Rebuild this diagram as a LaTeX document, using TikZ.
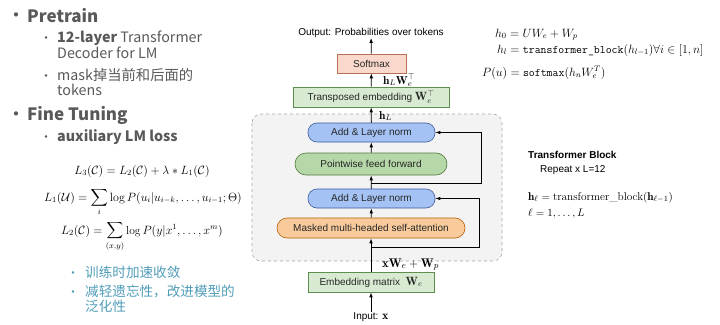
\documentclass[tikz,border=0pt]{standalone}
\usepackage{amsmath, amssymb}
\usepackage{fontspec}
\usetikzlibrary{arrows.meta, positioning}
\newfontfamily\cjk{Noto Sans CJK SC}
\newfontfamily\diagfont{Liberation Sans}
\definecolor{slidegray}{HTML}{595959}
\definecolor{tealtext}{HTML}{4F9CB8}
\definecolor{softfill}{HTML}{FAD9CC}
\definecolor{softdraw}{HTML}{B4705A}
\definecolor{embfill}{HTML}{D9EAD3}
\definecolor{embdraw}{HTML}{5F8F4F}
\definecolor{normfill}{HTML}{A4C2F4}
\definecolor{normdraw}{HTML}{3C5A9A}
\definecolor{ffnfill}{HTML}{B6D7A8}
\definecolor{ffndraw}{HTML}{4F7A3A}
\definecolor{attfill}{HTML}{F9CB9C}
\definecolor{attdraw}{HTML}{B45F06}
\definecolor{blockfill}{HTML}{F3F3F3}
\newcommand{\bigmat}[1]{{\fontsize{12}{12}\selectfont$#1$}}

\begin{document}
\begin{tikzpicture}[x=1pt, y=-1pt,
  head/.style={anchor=base west, inner sep=0pt, text=slidegray, font=\cjk\bfseries\fontsize{17}{20}\selectfont},
  item/.style={anchor=base west, inner sep=0pt, text=slidegray, font=\cjk\fontsize{14.3}{16}\selectfont},
  note/.style={item, text=tealtext, font=\cjk\fontsize{13.6}{16}\selectfont},
  bigdot/.style={anchor=base, inner sep=0pt, text=slidegray, font=\cjk\fontsize{20}{20}\selectfont},
  smalldot/.style={anchor=base, inner sep=0pt, text=slidegray, font=\cjk\fontsize{12}{12}\selectfont},
  eqn/.style={anchor=base, inner sep=0pt, font=\fontsize{11.5}{13}\selectfont},
  label/.style={inner sep=0pt, font=\diagfont\fontsize{10}{12}\selectfont},
  box/.style={draw, line width=0.6pt, inner sep=0pt, align=center, text=black!85,
              font=\diagfont\fontsize{10}{12}\selectfont},
  pill/.style={box, rounded corners=9pt},
  arr/.style={-{Latex[length=5pt,width=3.6pt]}, line width=0.8pt},
  lbl/.style={inner sep=0pt, anchor=base west, font=\fontsize{12.5}{14}\selectfont}]
  \useasboundingbox (0,0) rectangle (720,324);

  % left column
  \node[bigdot] (d1) at (16,23) {•};
  \node[head] (pre) at (27,22) {Pretrain};
  \node[smalldot] (d2) at (46,42) {•};
  \node[item] (l1a) at (57,42) {\textbf{12-layer} Transformer};
  \node[item] (l1b) at (57,58) {Decoder for LM};
  \node[smalldot] (d3) at (46,80) {•};
  \node[item] (l2a) at (57,80) {mask掉当前和后面的};
  \node[item] (l2b) at (57,95) {tokens};
  \node[bigdot] (d4) at (16,121) {•};
  \node[head] (ft) at (27,120) {Fine Tuning};
  \node[smalldot] (d5) at (46,141) {•};
  \node[item, font=\cjk\bfseries\fontsize{14.3}{16}\selectfont] (aux) at (57,141) {auxiliary LM loss};

  \node[eqn] (lthree) at (142,174) {$L_3(\mathcal{C}) = L_2(\mathcal{C}) + \lambda * L_1(\mathcal{C})$};
  \node[eqn, font=\fontsize{12}{13}\selectfont] (lone) at (143,201) {$\displaystyle L_1(\mathcal{U}) = \sum_i \log P(u_i|u_{i-k},\ldots,u_{i-1};\Theta)$};
  \node[eqn] (ltwo) at (142,234) {$\displaystyle L_2(\mathcal{C}) = \sum_{(x,y)} \log P(y|x^1,\ldots,x^m)$};

  \node[smalldot, text=tealtext] (d6) at (73,277) {•};
  \node[note] (c1) at (85,277) {训练时加速收敛};
  \node[smalldot, text=tealtext] (d7) at (73,296) {•};
  \node[note] (c2a) at (85,296) {减轻遗忘性，改进模型的};
  \node[note] (c2b) at (85,311) {泛化性};

  % transformer block
  \draw[dashed, gray!70, fill=blockfill, rounded corners=9pt, line width=0.6pt] (252,114) rectangle (502,261);
  \node[box, fill=softfill, draw=softdraw, minimum width=69pt, minimum height=19pt] (soft) at (371.5,63.5) {Softmax};
  \node[box, fill=embfill, draw=embdraw, minimum width=156pt, minimum height=20pt] (trans) at (371,97) {Transposed embedding \bigmat{\mathbf{W}_e^\top}};
  \node[pill, fill=normfill, draw=normdraw, minimum width=127pt, minimum height=19pt] (addtop) at (371.5,132.5) {Add \& Layer norm};
  \node[pill, fill=ffnfill, draw=ffndraw, minimum width=152pt, minimum height=22pt, rounded corners=11pt] (ffn) at (371,164) {Pointwise feed forward};
  \node[pill, fill=normfill, draw=normdraw, minimum width=127pt, minimum height=19pt] (addlow) at (371.5,198.5) {Add \& Layer norm};
  \node[pill, fill=attfill, draw=attdraw, minimum width=188pt, minimum height=20pt, rounded corners=10pt] (att) at (371,228) {Masked multi-headed self-attention};
  \node[box, fill=embfill, draw=embdraw, minimum width=126pt, minimum height=20pt] (embed) at (371,282) {Embedding matrix \ \bigmat{\mathbf{W}_e}};
  \node[label] (out) at (371,33) {Output: Probabilities over tokens};
  \node[label] (inp) at (371,317) {Input: \bigmat{\mathbf{x}}};

  \draw[arr] (inp) -- (embed);
  \draw[arr] (embed) -- (att);
  \draw[arr] (att) -- (addlow);
  \draw[arr] (addlow) -- (ffn);
  \draw[arr] (ffn) -- (addtop);
  \draw[arr] (addtop) -- (trans);
  \draw[arr] (trans) -- (soft);
  \draw[arr] (soft) -- (out);

  % residual paths
  \coordinate (resone) at (371,247);
  \coordinate (restwo) at (371,183);
  \draw[arr] (resone) -- ++(108,0) |- (addlow.east);
  \draw[arr] (restwo) -- ++(110,0) |- (addtop.east);

  \node[lbl] (lblx) at (382,267) {$\mathbf{x}\mathbf{W}_e + \mathbf{W}_p$};
  \node[lbl, font=\fontsize{11.5}{12}\selectfont] (lblh) at (379,119) {$\mathbf{h}_L$};
  \node[lbl, font=\fontsize{11.5}{12}\selectfont] (lblhw) at (383,84) {$\mathbf{h}_L\mathbf{W}_e^\top$};

  % right side
  \node[eqn, anchor=base west, font=\fontsize{11.5}{12}\selectfont] (hzero) at (495,37) {$h_0 = UW_e + W_p$};
  \node[eqn, anchor=base west, font=\fontsize{11.5}{12}\selectfont] (hl) at (497,53) {$h_l = \texttt{transformer\_block}(h_{l-1}) \forall i \in [1,n]$};
  \node[eqn, anchor=base west, font=\fontsize{11.5}{12}\selectfont] (pu) at (482,76) {$P(u) = \texttt{softmax}(h_n W_e^T)$};

  \node[label, anchor=base west, font=\diagfont\bfseries\fontsize{10}{12}\selectfont] (tb) at (528,158) {Transformer Block};
  \node[label, anchor=base west] (rep) at (540,172) {Repeat x L=12};
  \node[eqn, anchor=base west, font=\fontsize{11.3}{12}\selectfont] (hell) at (528,200) {$\mathbf{h}_\ell = \text{transformer\_block}(\mathbf{h}_{\ell-1})$};
  \node[eqn, anchor=base west, font=\fontsize{11.3}{12}\selectfont] (ell) at (528,216) {$\ell = 1,\ldots,L$};
\end{tikzpicture}
\end{document}
